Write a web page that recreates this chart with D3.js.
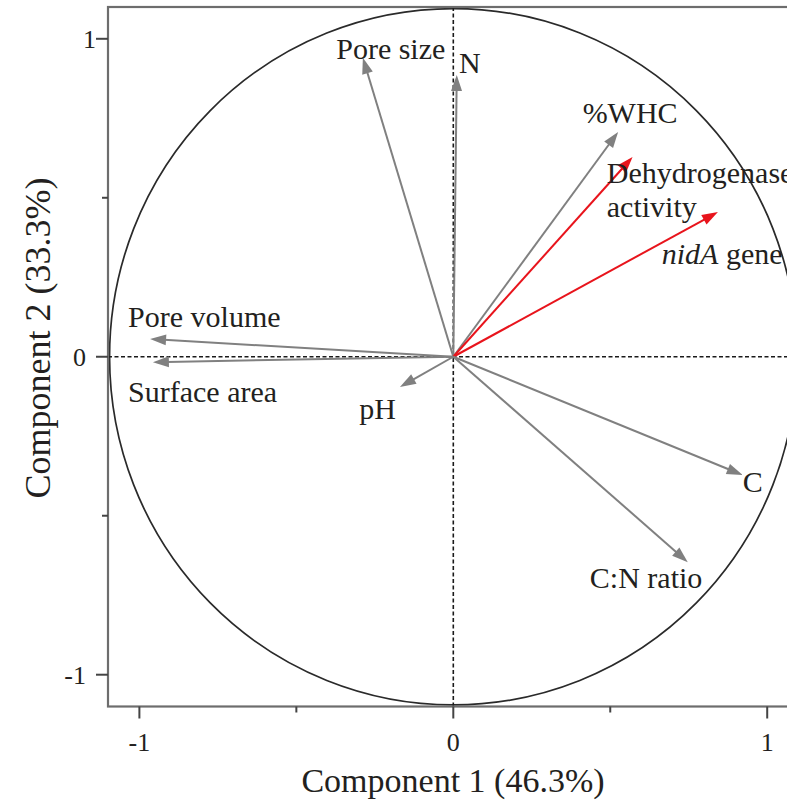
<!DOCTYPE html>
<html>
<head>
<meta charset="utf-8">
<script src="https://cdn.jsdelivr.net/npm/d3@7"></script>
<style>
  html, body { margin: 0; padding: 0; background: #fff; overflow: hidden; }
  svg { display: block; }
  text { font-family: "Liberation Serif", "Times New Roman", serif; fill: #231f20; }
</style>
</head>
<body>
<svg id="chart" width="787" height="809"></svg>
<script>
// PCA loadings: variable names and their coordinates on components 1 and 2
const variables = ["Pore size", "N", "%WHC", "Dehydrogenase activity", "nidA gene",
                   "Pore volume", "Surface area", "pH", "C", "C:N ratio"];
const comp1 = [-0.288, 0.011, 0.525, 0.571, 0.843, -0.966, -0.957, -0.170, 0.922, 0.747];
const comp2 = [0.940, 0.886, 0.707, 0.628, 0.455, 0.056, -0.017, -0.095, -0.372, -0.646];
// response variables drawn in red, soil properties in grey
const highlighted = [false, false, false, true, true, false, false, false, false, false];

// label anchor (start of text, baseline) in component units
const labelX = [-0.373, 0.018, 0.412, 0.489, 0.664, -1.036, -1.036, -0.300, 0.922, 0.435];
const labelY = [0.937, 0.893, 0.736, 0.547, 0.292, 0.0945, -0.141, -0.196, -0.424, -0.727];

const majorTicks = [-1, 0, 1];
const minorTicks = [-0.5, 0.5];
const xTitle = "Component 1 (46.3%)";
const yTitle = "Component 2 (33.3%)";
const circleRadius = 1.095;

const svg = d3.select("#chart");
const x = d3.scaleLinear().domain([-1.1, 1.1]).range([108, 798.6]);
const y = d3.scaleLinear().domain([-1.1, 1.1]).range([706.5, 7]);

const grey = "#808080", red = "#e8141c", frame = "#6d6d6d";

// correlation circle
svg.append("ellipse")
  .attr("cx", x(0)).attr("cy", y(0))
  .attr("rx", x(circleRadius) - x(0)).attr("ry", y(0) - y(circleRadius))
  .attr("fill", "none").attr("stroke", "#2a2a2a").attr("stroke-width", 1.7);

// dashed zero lines
svg.append("line")
  .attr("x1", x(0)).attr("x2", x(0)).attr("y1", y(1.1)).attr("y2", y(-1.1))
  .attr("stroke", "#1a1a1a").attr("stroke-width", 1.6).attr("stroke-dasharray", "4,2.5");
svg.append("line")
  .attr("x1", x(-1.1)).attr("x2", x(1.1)).attr("y1", y(0)).attr("y2", y(0))
  .attr("stroke", "#1a1a1a").attr("stroke-width", 1.6).attr("stroke-dasharray", "4,2.5");

// loading arrows
const headLen = 16, headHalf = 5.5;
variables.forEach((name, i) => {
  const x0 = x(0), y0 = y(0);
  const x1 = x(comp1[i]), y1 = y(comp2[i]);
  const dx = x1 - x0, dy = y1 - y0;
  const len = Math.hypot(dx, dy);
  const ux = dx / len, uy = dy / len;
  const bx = x1 - ux * headLen, by = y1 - uy * headLen;
  const col = highlighted[i] ? red : grey;
  svg.append("line")
    .attr("x1", x0).attr("y1", y0).attr("x2", bx + ux * 2).attr("y2", by + uy * 2)
    .attr("stroke", col).attr("stroke-width", 2);
  svg.append("polygon")
    .attr("points", [
      [x1, y1],
      [bx - uy * headHalf, by + ux * headHalf],
      [bx + uy * headHalf, by - ux * headHalf]
    ].map(p => p.join(",")).join(" "))
    .attr("fill", col);
});

// variable labels
variables.forEach((name, i) => {
  const t = svg.append("text")
    .attr("x", x(labelX[i])).attr("y", y(labelY[i]))
    .attr("font-size", 30);
  if (name === "nidA gene") {
    t.append("tspan").attr("font-style", "italic").text("nidA");
    t.append("tspan").text(" gene");
  } else if (name === "Dehydrogenase activity") {
    t.append("tspan").text("Dehydrogenase");
    t.append("tspan").attr("x", x(labelX[i])).attr("dy", 34).text("activity");
  } else {
    t.text(name);
  }
});

// frame
const fr = svg.append("g").attr("stroke", frame).attr("stroke-width", 2.2).attr("fill", "none");
fr.append("rect")
  .attr("x", x(-1.1)).attr("y", y(1.1))
  .attr("width", x(1.1) - x(-1.1)).attr("height", y(-1.1) - y(1.1));

// ticks and tick labels
const ax = svg.append("g").attr("stroke", "#444").attr("stroke-width", 2);
majorTicks.forEach(v => {
  ax.append("line").attr("x1", x(v)).attr("x2", x(v)).attr("y1", y(-1.1)).attr("y2", y(-1.1) + 12);
  ax.append("line").attr("y1", y(v)).attr("y2", y(v)).attr("x1", x(-1.1)).attr("x2", x(-1.1) - 12);
});
minorTicks.forEach(v => {
  ax.append("line").attr("x1", x(v)).attr("x2", x(v)).attr("y1", y(-1.1)).attr("y2", y(-1.1) + 6);
  ax.append("line").attr("y1", y(v)).attr("y2", y(v)).attr("x1", x(-1.1)).attr("x2", x(-1.1) - 6);
});
svg.selectAll(".xtl").data(majorTicks).join("text")
  .attr("class", "xtl")
  .attr("x", d => x(d)).attr("y", 751)
  .attr("text-anchor", "middle").attr("font-size", 26)
  .text(d => d === -1 ? "-1" : d);
svg.selectAll(".ytl").data(majorTicks).join("text")
  .attr("class", "ytl")
  .attr("x", d => d === 1 ? 96 : 86).attr("y", d => y(d) + 9)
  .attr("text-anchor", "end").attr("font-size", 26)
  .text(d => d === -1 ? "-1" : d);

// axis titles
svg.append("text")
  .attr("x", 453).attr("y", 792)
  .attr("text-anchor", "middle").attr("font-size", 34)
  .text(xTitle);
svg.append("text")
  .attr("transform", "translate(50,338) rotate(-90)")
  .attr("text-anchor", "middle").attr("font-size", 36)
  .text(yTitle);
</script>
</body>
</html>
